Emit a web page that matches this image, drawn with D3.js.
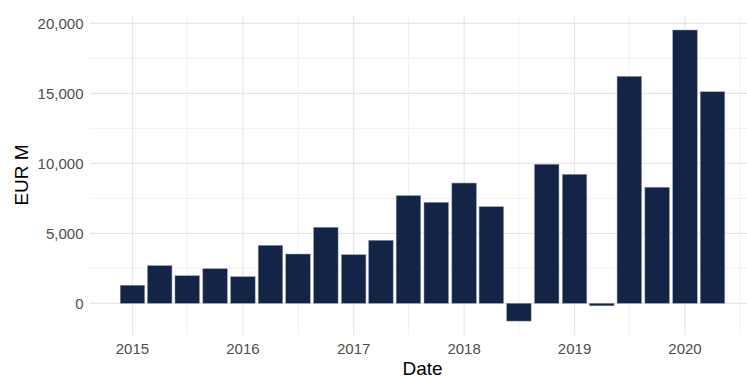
<!DOCTYPE html>
<html>
<head>
<meta charset="utf-8">
<script src="https://cdn.jsdelivr.net/npm/d3@7"></script>
<style>
  html, body { margin: 0; padding: 0; background: #fff; }
  svg { display: block; font-family: "Liberation Sans", Arial, sans-serif; }
</style>
</head>
<body>
<svg id="chart" width="747" height="378"></svg>
<script>
// Quarterly values, EUR millions
const quarters = [
  "2015-01-01", "2015-04-01", "2015-07-01", "2015-10-01",
  "2016-01-01", "2016-04-01", "2016-07-01", "2016-10-01",
  "2017-01-01", "2017-04-01", "2017-07-01", "2017-10-01",
  "2018-01-01", "2018-04-01", "2018-07-01", "2018-10-01",
  "2019-01-01", "2019-04-01", "2019-07-01", "2019-10-01",
  "2020-01-01", "2020-04-01"
];
const values = [
  1290, 2690, 1970, 2470,
  1900, 4140, 3520, 5430,
  3470, 4500, 7690, 7210,
  8590, 6900, -1270, 9930,
  9210, -180, 16210, 8290,
  19520, 15110
];
const yTicks = [0, 5000, 10000, 15000, 20000];
const yMinor = [2500, 7500, 12500, 17500];
const xTickYears = [2015, 2016, 2017, 2018, 2019, 2020];
const xMinorDates = ["2015-07-01", "2016-07-01", "2017-07-01", "2018-07-01", "2019-07-01", "2020-07-01"];

const parse = d3.utcParse("%Y-%m-%d");
const data = quarters.map((q, i) => ({ date: parse(q), value: values[i] }));

const svg = d3.select("#chart");
const panel = { left: 90, right: 755, top: 15, bottom: 335 };

const DAY = 864e5;
const halfBar = 40.5 * DAY;        // bar spans 0.9 of a 90-day quarter
const pad = 99.85 * DAY;           // 5% expansion on each side

const x = d3.scaleUtc()
  .domain([new Date(+data[0].date - halfBar - pad), new Date(+data[data.length - 1].date + halfBar + pad)])
  .range([panel.left, panel.right]);

const y = d3.scaleLinear()
  .domain([-2264, 20593])
  .range([panel.bottom, panel.top]);

const grid = svg.append("g");

// minor grid
grid.selectAll("line.hmin").data(yMinor).join("line")
  .attr("x1", panel.left).attr("x2", panel.right)
  .attr("y1", d => y(d)).attr("y2", d => y(d))
  .attr("stroke", "#ebebeb").attr("stroke-width", 0.7);
grid.selectAll("line.vmin").data(xMinorDates.map(parse)).join("line")
  .attr("y1", panel.top).attr("y2", panel.bottom)
  .attr("x1", d => x(d)).attr("x2", d => x(d))
  .attr("stroke", "#ebebeb").attr("stroke-width", 0.7);

// major grid
grid.selectAll("line.hmaj").data(yTicks).join("line")
  .attr("x1", panel.left).attr("x2", panel.right)
  .attr("y1", d => y(d)).attr("y2", d => y(d))
  .attr("stroke", "#e6e6e6").attr("stroke-width", 1.2);
grid.selectAll("line.vmaj").data(xTickYears).join("line")
  .attr("y1", panel.top).attr("y2", panel.bottom)
  .attr("x1", d => x(Date.UTC(d, 0, 1))).attr("x2", d => x(Date.UTC(d, 0, 1)))
  .attr("stroke", "#e6e6e6").attr("stroke-width", 1.2);

// bars
svg.append("g").selectAll("rect").data(data).join("rect")
  .attr("x", d => x(new Date(+d.date - halfBar)))
  .attr("width", d => x(new Date(+d.date + halfBar)) - x(new Date(+d.date - halfBar)))
  .attr("y", d => y(Math.max(0, d.value)))
  .attr("height", d => Math.abs(y(d.value) - y(0)))
  .attr("fill", "#132447")
  .attr("stroke", "#8f99ad")
  .attr("stroke-width", 0.5);

// y tick labels
const fmt = d3.format(",");
svg.append("g").selectAll("text").data(yTicks).join("text")
  .attr("x", 83.5)
  .attr("y", d => y(d))
  .attr("dy", "0.36em")
  .attr("text-anchor", "end")
  .attr("fill", "#4d4d4d")
  .attr("font-size", 15)
  .text(d => fmt(d));

// x tick labels
svg.append("g").selectAll("text").data(xTickYears).join("text")
  .attr("x", d => x(Date.UTC(d, 0, 1)))
  .attr("y", 354)
  .attr("text-anchor", "middle")
  .attr("fill", "#4d4d4d")
  .attr("font-size", 15)
  .text(d => d);

// axis titles
svg.append("text")
  .attr("x", (panel.left + panel.right) / 2)
  .attr("y", 375)
  .attr("text-anchor", "middle")
  .attr("fill", "#000")
  .attr("font-size", 19)
  .text("Date");

svg.append("text")
  .attr("transform", `translate(27.5, ${(panel.top + panel.bottom) / 2}) rotate(-90)`)
  .attr("text-anchor", "middle")
  .attr("fill", "#000")
  .attr("font-size", 19)
  .text("EUR M");
</script>
</body>
</html>
